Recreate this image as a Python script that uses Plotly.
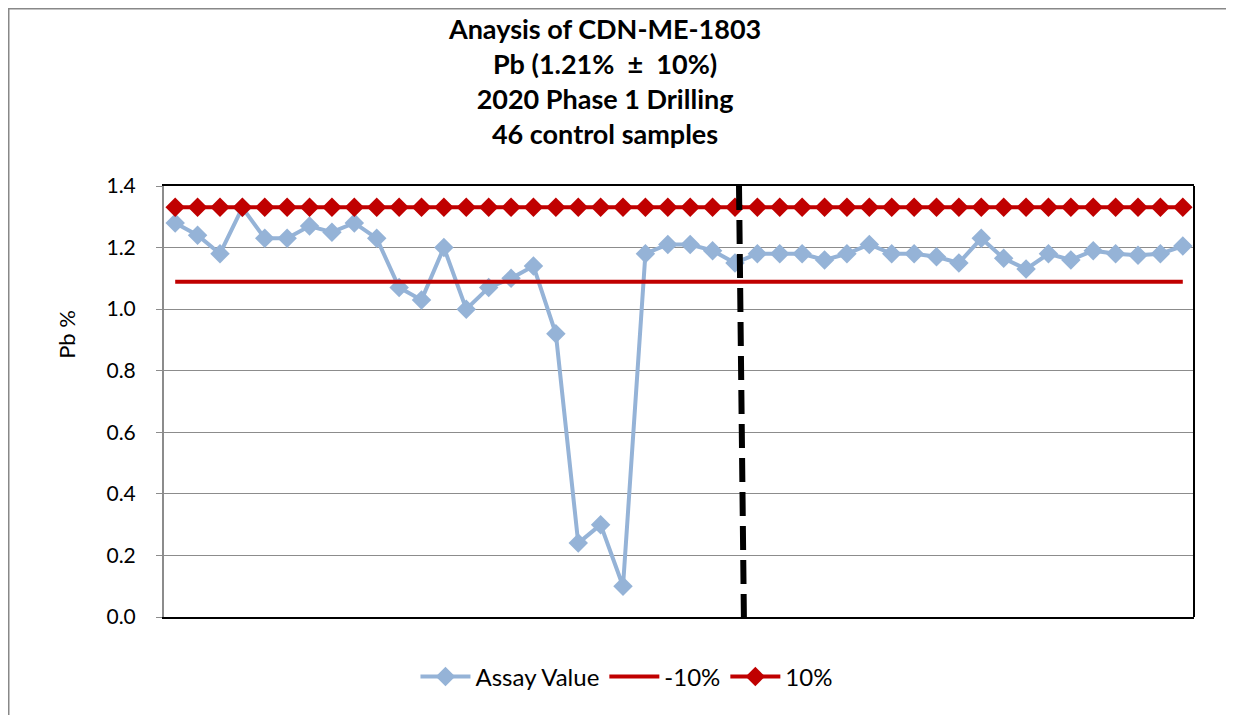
import plotly.graph_objects as go

# sample numbers (46 control samples)
samples = list(range(1, 47))

# assay values (Pb %)
assay = [1.28, 1.24, 1.18, 1.33, 1.23, 1.23, 1.27, 1.25, 1.28, 1.23,
         1.07, 1.03, 1.20, 1.00, 1.07, 1.10, 1.14, 0.92, 0.24, 0.30,
         0.10, 1.18, 1.21, 1.21, 1.19, 1.15, 1.18, 1.18, 1.18, 1.16,
         1.18, 1.21, 1.18, 1.18, 1.17, 1.15, 1.23, 1.165, 1.13, 1.18,
         1.16, 1.19, 1.18, 1.175, 1.18, 1.205]

# limits: 1.21 % +/- 10 %
lower = [1.089] * len(samples)
upper = [1.331] * len(samples)

blue = '#95B3D7'
red = '#C00000'
font = 'Lato'

# page has an 8px body margin, so the figure is sized to what is visible
W, H = 1226, 707
L, R, T, B = 156, 40, 178, 98
pw, ph = W - L - R, H - T - B

fig = go.Figure()
fig.add_trace(go.Scatter(x=samples, y=assay, name='Assay Value', mode='lines+markers',
                         line=dict(color=blue, width=4),
                         marker=dict(symbol='diamond', size=15, color=blue)))
fig.add_trace(go.Scatter(x=samples, y=lower, name='-10%', mode='lines',
                         line=dict(color=red, width=4)))
fig.add_trace(go.Scatter(x=samples, y=upper, name='10%', mode='lines+markers',
                         line=dict(color=red, width=4),
                         marker=dict(symbol='diamond', size=15, color=red)))

# dashed divider drawn by hand in the original
fig.add_shape(type='line', xref='x', yref='y', x0=26.18, y0=1.4, x1=26.4, y1=-0.01,
              line=dict(color='black', width=6, dash='24px,10px'))
# right border of plot area
fig.add_shape(type='line', xref='paper', yref='paper', x0=1, y0=0, x1=1, y1=1,
              line=dict(color='black', width=2))
# outer chart border (only left and top visible)
fig.add_shape(type='line', xref='paper', yref='paper', x0=-L / pw, y0=-B / ph, x1=-L / pw, y1=1 + T / ph,
              line=dict(color='#888888', width=3))
fig.add_shape(type='line', xref='paper', yref='paper', x0=-L / pw, y0=1 + T / ph, x1=1 + R / pw, y1=1 + T / ph,
              line=dict(color='#888888', width=3))

# y axis title sits above the middle of the axis in the original
fig.add_annotation(text='Pb %', xref='paper', yref='paper', x=-0.0942, y=0.657,
                   textangle=-90, showarrow=False, xanchor='center', yanchor='middle',
                   font=dict(family=font, size=22, color='black'))

fig.update_layout(
    width=W, height=H,
    margin=dict(l=L, r=R, t=T, b=B, autoexpand=False),
    paper_bgcolor='white', plot_bgcolor='white',
    font=dict(family=font, size=21, color='black'),
    title=dict(text='<b>Anaysis of CDN-ME-1803<br>Pb (1.21%  \u00b1  10%)<br>2020 Phase 1 Drilling<br>46 control samples</b>',
               x=0.487, xanchor='center', xref='container', y=1 - 31 / H, yanchor='top',
               font=dict(family=font, size=27, color='black')),
    showlegend=True,
    legend=dict(orientation='h', x=0.449, xanchor='center', y=-0.139, yanchor='middle',
                font=dict(size=24), itemwidth=50, traceorder='normal'),
    xaxis=dict(range=[0.5, 46.5], showticklabels=False, showgrid=False, zeroline=False,
               showline=True, linecolor='black', linewidth=2, mirror=True, ticks=''),
    yaxis=dict(range=[0, 1.4], dtick=0.2, tickformat='.1f', showgrid=True, gridcolor='#8c8c8c',
               gridwidth=1, zeroline=False, showline=True, linecolor='#8c8c8c', linewidth=2,
               ticks='outside', ticklen=6, tickcolor='#8c8c8c', ticklabelstandoff=16),
)

fig.write_html('out.html')
